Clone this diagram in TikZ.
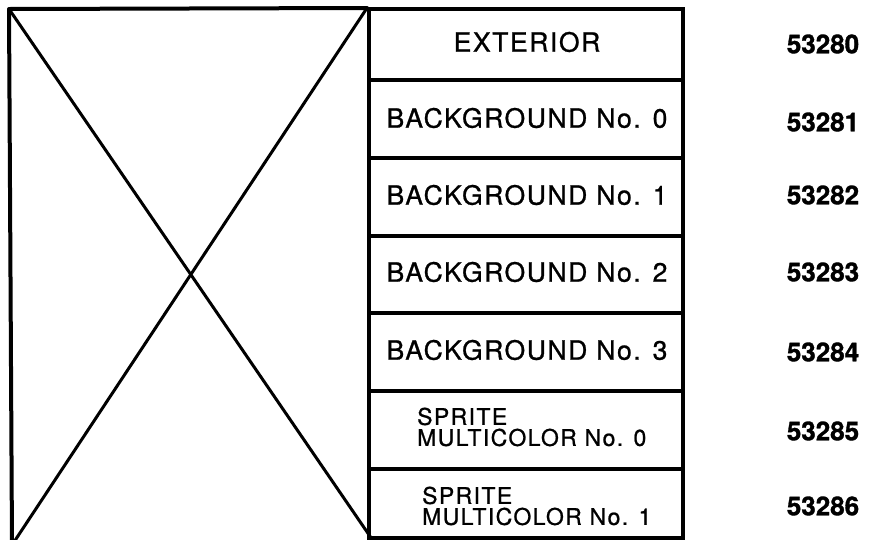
\documentclass[tikz,border=0pt]{standalone}
\usepackage{fontspec}
\setmainfont{TeX Gyre Heros}
\newfontfamily\labfont[LetterSpace=6,FakeBold=0.9]{TeX Gyre Heros}
\newfontfamily\numfont[FakeBold=1.2]{TeX Gyre Heros}
\begin{document}
\begin{tikzpicture}[x=1pt,y=-1pt,
  edge/.style={line width=4pt,line cap=round,line join=round},
  cell/.style={draw,line width=4pt,anchor=north west,minimum width=314pt,inner sep=0pt},
  lab/.style={font=\fontsize{26.5}{28}\selectfont\labfont},
  slab/.style={font=\fontsize{23}{21}\selectfont\labfont,align=left,anchor=west,inner sep=0pt},
  num/.style={font=\fontsize{26}{28}\selectfont\bfseries\numfont}]
\useasboundingbox (0,0) rectangle (871,539);
% left crossed box
\coordinate (tl) at (9,9);
\coordinate (tr) at (367,8);
\coordinate (bl) at (12,545);
\coordinate (br) at (376,545);
\draw[edge] (bl) -- (tl) -- (tr);
\draw[line width=3pt] (tl) -- (br);
\draw[line width=3pt] (tr) -- (bl);
% register cells
\node[cell,minimum height=71pt] (c0) at (367,7) {};
\node[cell,minimum height=78pt] (c1) at (367,78) {};
\node[cell,minimum height=78pt] (c2) at (367,156) {};
\node[cell,minimum height=77pt] (c3) at (367,234) {};
\node[cell,minimum height=78pt] (c4) at (367,311) {};
\node[cell,minimum height=78pt] (c5) at (367,389) {};
\node[cell,minimum height=69pt] (c6) at (367,467) {};
% labels
\node[lab] (t0) at (527,42) {EXTERIOR};
\node[lab] (t1) at (527,118) {BACKGROUND No. 0};
\node[lab] (t2) at (527,195) {BACKGROUND No. 1};
\node[lab] (t3) at (527,272) {BACKGROUND No. 2};
\node[lab] (t4) at (527,350) {BACKGROUND No. 3};
\node[slab] (t5) at (417,427) {SPRITE\\MULTICOLOR No. 0};
\node[slab] (t6) at (422,506) {SPRITE\\MULTICOLOR No. 1};
% addresses
\node[num] (n0) at (823,44) {53280};
\node[num] (n1) at (823,122) {53281};
\node[num] (n2) at (823,195) {53282};
\node[num] (n3) at (823,272) {53283};
\node[num] (n4) at (823,352) {53284};
\node[num] (n5) at (823,431) {53285};
\node[num] (n6) at (823,506) {53286};
\end{tikzpicture}
\end{document}
